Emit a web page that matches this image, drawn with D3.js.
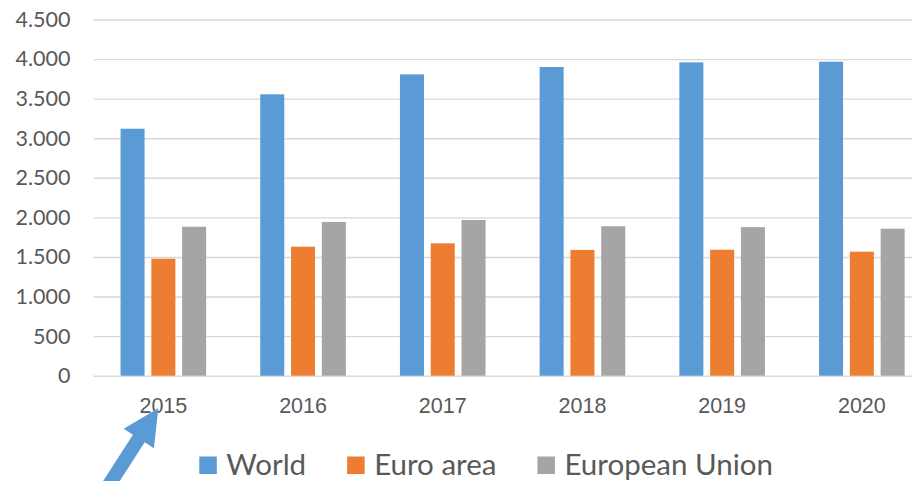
<!DOCTYPE html>
<html>
<head>
<meta charset="utf-8">
<script src="https://cdn.jsdelivr.net/npm/d3@7"></script>
<style>
  body { margin: 0; background: #fff; }
  svg { display: block; font-family: Lato, "Open Sans", sans-serif; }
  .y-axis text, .x-axis text { fill: #595959; font-size: 21.5px; }
  .y-axis line { stroke: #d9d9d9; stroke-width: 1.4; }
  .legend text { fill: #595959; font-size: 29.5px; }
</style>
</head>
<body>
<svg></svg>
<script>
const years = ["2015", "2016", "2017", "2018", "2019", "2020"]
const seriesNames = ["World", "Euro area", "European Union"]
const world = [3120, 3555, 3807, 3900, 3958, 3967]
const euroArea = [1478, 1630, 1672, 1589, 1591, 1567]
const europeanUnion = [1882, 1942, 1967, 1888, 1877, 1857]
const yTicks = [0, 500, 1000, 1500, 2000, 2500, 3000, 3500, 4000, 4500]

const seriesValues = [world, euroArea, europeanUnion]
const colors = ["#5b9bd5", "#ed7d31", "#a5a5a5"]

const width = 912
const height = 481

const svg = d3.select("svg")
  .attr("width", width)
  .attr("height", height)

// the plot runs off the right edge of the picture, as in the original
const xScale = d3.scaleBand()
  .domain(years)
  .range([93.5, 931.7])

const groupWidth = 85.6
const innerScale = d3.scaleBand()
  .domain(seriesNames)
  .range([0, groupWidth])
  .paddingInner(0.22)

const yScale = d3.scaleLinear()
  .domain([0, 4500])
  .range([375.7, 19.5])

const locale = d3.formatLocale({ decimal: ",", thousands: ".", grouping: [3], currency: ["", ""] })
const fmt = locale.format(",")

const yAxis = d3.axisLeft(yScale)
  .tickValues(yTicks)
  .tickFormat(fmt)
  .tickSizeInner(-(931.7 - 93.5))
  .tickSizeOuter(0)
  .tickPadding(23)

svg.append("g")
  .attr("class", "y-axis")
  .attr("transform", "translate(93.5, 0)")
  .call(yAxis)
  .call(g => g.select(".domain").remove())
  .call(g => g.selectAll("text").style("font-family", "Lato, sans-serif"))

const groups = svg.selectAll("g.year")
  .data(years)
  .enter()
  .append("g")
  .attr("class", "year")
  .attr("transform", d => `translate(${xScale(d) + (xScale.bandwidth() - groupWidth) / 2}, 0)`)

groups.selectAll("rect")
  .data((d, i) => seriesNames.map((name, s) => ({ name: name, value: seriesValues[s][i], s: s })))
  .enter()
  .append("rect")
  .attr("x", d => innerScale(d.name))
  .attr("y", d => yScale(d.value))
  .attr("width", innerScale.bandwidth())
  .attr("height", d => yScale(0) - yScale(d.value))
  .style("fill", d => colors[d.s])

const xAxis = d3.axisBottom(xScale)
  .tickSize(0)
  .tickPadding(22)

svg.append("g")
  .attr("class", "x-axis")
  .attr("transform", `translate(0, ${yScale(0)})`)
  .call(xAxis)
  .call(g => g.select(".domain").remove())

// legend, laid out left to right by measured text width
const legend = svg.append("g")
  .attr("class", "legend")
  .attr("transform", "translate(199.3, 0)")

let cursor = 0
seriesNames.forEach((name, s) => {
  legend.append("rect")
    .attr("x", cursor)
    .attr("y", 456.5)
    .attr("width", 17.5)
    .attr("height", 17.5)
    .style("fill", colors[s])
  const t = legend.append("text")
    .attr("x", cursor + 27)
    .attr("y", 474.5)
    .text(name)
  cursor += 27 + t.node().getComputedTextLength() + 41
})

// pointer arrow at the 2015 label
const tip = [158.3, 408.3]
const tail = [96, 505]
const dx = tip[0] - tail[0], dy = tip[1] - tail[1]
const len = Math.hypot(dx, dy)
const ux = dx / len, uy = dy / len
const px = -uy, py = ux
const headLen = 36, headHalf = 18, shaftHalf = 7
const baseX = tip[0] - ux * headLen, baseY = tip[1] - uy * headLen
const pts = [
  [tail[0] + px * shaftHalf, tail[1] + py * shaftHalf],
  [baseX + px * shaftHalf, baseY + py * shaftHalf],
  [baseX + px * headHalf, baseY + py * headHalf],
  tip,
  [baseX - px * headHalf, baseY - py * headHalf],
  [baseX - px * shaftHalf, baseY - py * shaftHalf],
  [tail[0] - px * shaftHalf, tail[1] - py * shaftHalf]
]
svg.append("path")
  .attr("d", d3.line()(pts) + "Z")
  .style("fill", "#5b9bd5")
</script>
</body>
</html>
